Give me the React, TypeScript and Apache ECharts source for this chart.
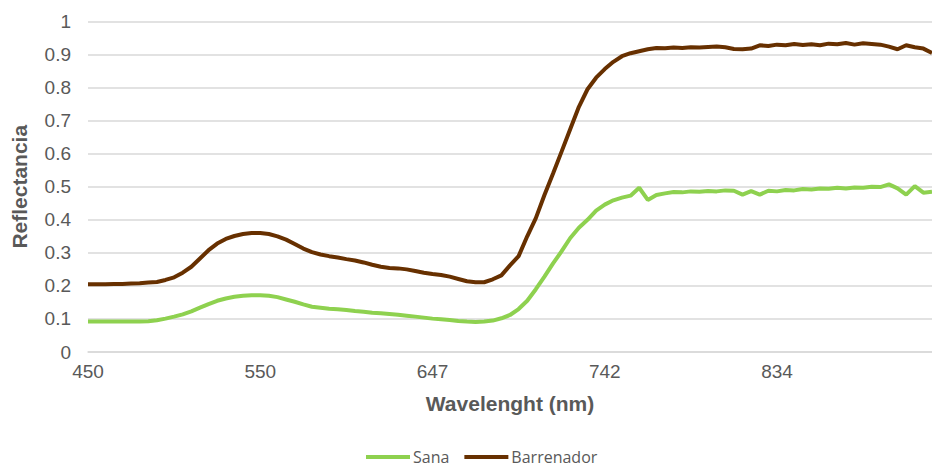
import React, { useEffect, useRef } from "react";
import * as echarts from "echarts";

const wavelengths = [
  450, 455, 460, 465, 470, 475, 480, 485, 490, 495, 500, 505, 510, 515, 520, 525, 530, 535, 540, 545, 550,
  555, 560, 565, 569, 574, 579, 584, 589, 594, 599, 603, 608, 613, 618, 623, 628, 632, 637, 642, 647,
  652, 657, 661, 666, 671, 676, 680, 685, 690, 695, 699, 704, 709, 714, 718, 723, 728, 733, 737, 742,
  747, 751, 756, 760, 765, 770, 774, 779, 783, 788, 793, 797, 802, 806, 811, 816, 820, 825, 829, 834,
  839, 843, 848, 852, 857, 861, 866, 870, 875, 879, 884, 888, 893, 897, 902, 906, 911, 915,
];

const sana = [
  0.092, 0.092, 0.092, 0.092, 0.092, 0.092, 0.092, 0.093, 0.096, 0.101, 0.107, 0.114, 0.123, 0.134, 0.145,
  0.155, 0.162, 0.167, 0.17, 0.172, 0.172, 0.17, 0.166, 0.159, 0.152, 0.144, 0.137, 0.134, 0.131, 0.129,
  0.127, 0.124, 0.122, 0.119, 0.117, 0.115, 0.113, 0.11, 0.107, 0.104, 0.101, 0.099, 0.097, 0.094, 0.092,
  0.091, 0.092, 0.095, 0.102, 0.112, 0.13, 0.155, 0.19, 0.228, 0.268, 0.305, 0.345, 0.376, 0.4, 0.428,
  0.446, 0.459, 0.467, 0.473, 0.497, 0.46, 0.475, 0.48, 0.484, 0.483, 0.486, 0.485, 0.487, 0.486, 0.489,
  0.488, 0.476, 0.487, 0.476, 0.488, 0.486, 0.49, 0.489, 0.493, 0.492, 0.495, 0.494, 0.497, 0.495, 0.498,
  0.497, 0.5, 0.499, 0.507, 0.495, 0.476, 0.502, 0.482, 0.485,
];

const barrenador = [
  0.205, 0.205, 0.205, 0.206, 0.206, 0.207, 0.208, 0.21, 0.212, 0.218, 0.226, 0.24, 0.258, 0.283, 0.308,
  0.328, 0.342, 0.351, 0.357, 0.36, 0.36, 0.357, 0.35, 0.34, 0.327, 0.313, 0.302, 0.295, 0.29, 0.286,
  0.281, 0.277, 0.271, 0.264, 0.258, 0.254, 0.253, 0.25, 0.245, 0.24, 0.236, 0.233, 0.228, 0.221, 0.214,
  0.211, 0.211, 0.22, 0.232, 0.262, 0.29, 0.35, 0.405, 0.475, 0.54, 0.607, 0.675, 0.742, 0.795, 0.83,
  0.856, 0.878, 0.895, 0.904, 0.91, 0.916, 0.92, 0.919, 0.921, 0.92, 0.922, 0.921, 0.923, 0.924, 0.922,
  0.917, 0.916, 0.918, 0.928, 0.926, 0.93, 0.928, 0.932, 0.929, 0.931, 0.928, 0.933, 0.931, 0.935, 0.93,
  0.934, 0.932, 0.93, 0.924, 0.916, 0.928, 0.922, 0.918, 0.905,
];

const seriesNames = ["Sana", "Barrenador"];
const colors = ["#8ed14f", "#673000"];

export default function App() {
  const ref = useRef<HTMLDivElement>(null);
  useEffect(() => {
    if (!ref.current) return;
    const chart = echarts.init(ref.current, undefined, { renderer: "svg" });
    chart.setOption({
      animation: false,
      grid: { left: 88, right: 0, top: 21.5, bottom: 115, containLabel: false, outerBoundsMode: "none" },
      legend: {
        data: seriesNames,
        top: 449,
        left: 366,
        padding: 0,
        icon: "rect",
        itemWidth: 44,
        itemHeight: 4,
        itemGap: 15,
        textStyle: { fontFamily: "Open Sans", fontSize: 16, color: "#595959", padding: [0, 0, 0, -2] },
      },
      xAxis: {
        type: "category",
        data: wavelengths.map(String),
        boundaryGap: false,
        name: "Wavelenght (nm)",
        nameLocation: "middle",
        nameGap: 41,
        nameTextStyle: { fontFamily: "Liberation Sans", fontWeight: "bold", fontSize: 21, color: "#595959" },
        axisTick: { show: false },
        axisLine: { show: true, lineStyle: { color: "#d9d9d9", width: 1.5 } },
        axisLabel: { interval: 19, margin: 10, fontFamily: "Liberation Sans", fontSize: 19, color: "#595959" },
        splitLine: { show: false },
      },
      yAxis: {
        type: "value",
        min: 0,
        max: 1,
        interval: 0.1,
        name: "Reflectancia",
        nameLocation: "middle",
        nameGap: 58,
        nameRotate: 90,
        nameTextStyle: { fontFamily: "Liberation Sans", fontWeight: "bold", fontSize: 21, color: "#595959" },
        axisLine: { show: false },
        axisTick: { show: false },
        axisLabel: { margin: 17, fontFamily: "Liberation Sans", fontSize: 19, color: "#595959" },
        splitLine: { show: true, lineStyle: { color: "#d9d9d9", width: 1.5 } },
      },
      series: [
        {
          name: seriesNames[0],
          type: "line",
          data: sana,
          showSymbol: false,
          symbol: "none",
          lineStyle: { color: colors[0], width: 4 },
          itemStyle: { color: colors[0] },
        },
        {
          name: seriesNames[1],
          type: "line",
          data: barrenador,
          showSymbol: false,
          symbol: "none",
          lineStyle: { color: colors[1], width: 4 },
          itemStyle: { color: colors[1] },
        },
      ],
    });
    return () => chart.dispose();
  }, []);
  return <div ref={ref} style={{ width: 932, height: 467, position: "absolute", left: 0, top: 0, background: "#fff" }} />;
}
